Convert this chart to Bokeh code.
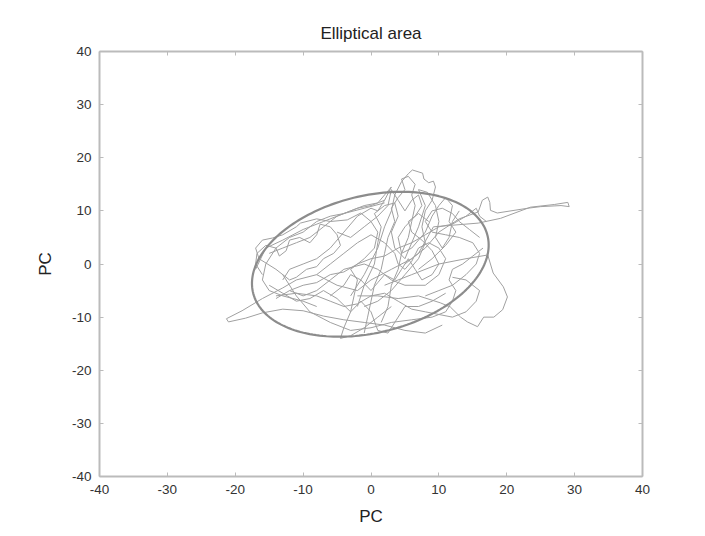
import numpy as np
from bokeh.plotting import figure
from bokeh.models import Range1d, LinearAxis, FixedTicker
from bokeh.embed import file_html
from bokeh.resources import INLINE

# ---- data (data units) ----
ticks = [-40, -30, -20, -10, 0, 10, 20, 30, 40]
tick_labels = {t: str(t) for t in ticks}

# fitted ellipse parameters
ell_cx, ell_cy = -0.1, -0.05
ell_a, ell_b = 18.2, 12.6
ell_angle_deg = 23.4

path_a_x = [-2, -5, -8, -11, -13, -16, -19, -21.3, -21, -18.5, -16, -13, -10, -7, -4, -1, 2, 5, 8, 10.5]
path_a_y = [-5, -4, -2, -3, -4.5, -6.5, -8.8, -10.3, -10.9, -10.2, -9.2, -8.5, -8.8, -9.8, -10.5, -11, -11.5, -12.5, -13, -11.5]

path_b_x = [-12, -14, -16.5, -17, -16, -14.5, -13, -11, -10.4, -8, -6, -3.5, -1.5, 0, 1, 0.5, -1, -3, -2, -2.5, -3, -4, -4.5, -3, -1, 1, 3]
path_b_y = [-3, -1, 1, 3, 4.5, 4.9, 5.5, 7, 7.7, 8.5, 8, 8.3, 9.6, 8, 6, 3, 1, -1, -3, -6, -9, -12, -14, -13.5, -12, -10, -8]

path_c_x = [-3, -1, 1, 2, 3, 3.5, 4.5, 5.5, 6.1, 7.6, 7.8, 8.5, 9.2, 9.5, 9, 8, 7.5, 8, 7, 5, 3, 1, -1]
path_c_y = [-6, -2, 3, 7, 10, 13, 15.5, 17, 17.7, 17.1, 16, 15.3, 15.6, 14.5, 12, 10, 7, 4, 1, -2, -5, -7, -8]

path_d_x = [5, 7, 9.2, 12, 15.8, 19.1, 23.5, 27, 29, 29.2, 28, 25, 23.1, 18.6, 17.6, 17.5, 17.2, 16.4, 15.8, 13, 10, 8, 6, 3, 0, -2]
path_d_y = [0, 2, 7, 7.3, 7.7, 8.6, 10.7, 11.2, 11.6, 10.8, 11, 10.8, 10.5, 9.6, 10.1, 11.6, 12.6, 12, 9.8, 8.5, 6, 3, 1, -1, -3, -5]

path_e_x = [2, 6, 10, 14, 17.2, 18, 19.5, 20.1, 19.4, 18.1, 16.6, 15.7, 14.2, 13.2, 11.7, 10.2, 7, 4, 1, -2]
path_e_y = [-4, -2, 0, 1, 1.7, -1.7, -4.3, -6.2, -8.6, -10, -10, -11.8, -10.9, -10, -8.1, -7.3, -6, -6.5, -6, -6]

path_f_x = [-8, -6, -4, -2, 0, 2, 3.5, 4, 5, 6, 7, 8.5, 10, 11, 10, 8, 5, 3, 1, -1, -4, -6, -8, -10, -12]
path_f_y = [-2, 0, 2, 4, 5.5, 4, 2, 0, -1, 0.5, 3, 4, 3, 1, -2, -4, -4, -3, -1, 0, -1, -3, -5, -6, -5]

path_g_x = [-5, -3, -1, 1, 2.5, 3, 4, 5, 6, 7, 7.5, 6.5, 5, 4, 4.5, 6, 8, 9, 10, 11, 12, 11.5, 12.5, 11, 9, 7]
path_g_y = [6, 5, 7, 9, 11, 14, 12, 10, 12, 13, 11, 9, 7, 5, 2, 3, 6, 9, 11, 12.5, 11, 8, 6, 3.5, 1, -1]

path_h_x = [-14, -11, -8, -6, -4, -2, 0, 2, 4, 6, 8, 10, 12, 14, 15.5, 16, 14, 12]
path_h_y = [-6, -5.5, -6, -7, -8, -7.5, -6, -5.5, -7, -8.5, -9, -9.5, -10, -9, -7, -5, -3, -2.5]

path_i_x = [-15, -13, -11, -9, -7, -5, -3, -1, 1, 2, 3, 2, 1, 0, -2, -4, -6, -8, -10, -12, -13]
path_i_y = [2, 3, 4, 5, 7, 9, 10, 11, 11.5, 13, 14.5, 12, 10, 10.5, 9, 6, 3, 1, 0, -1, -3]

path_j_x = [-16, -17, -16.8, -15.5, -14, -13.5, -12.5, -12, -10.5, -9, -8, -7.5, -6, -5, -4.5, -5.5, -7, -8, -9.5, -11, -12]
path_j_y = [-2, 0, 2, 3.5, 3, 1.5, 2.5, 4.5, 5, 4, 5.5, 7.5, 7, 5.5, 3.5, 2, 1, -0.5, -1, -2.5, -3]

path_k_x = [-1, -0.5, 0, 0.5, 1.5, 2, 2.5, 3.5, 3, 4, 5, 4.5, 5.5, 6.5, 6, 6.5, 6, 5.5, 4.5, 4, 3, 2.5, 1.5]
path_k_y = [-13, -10, -7, -4, -1, 2, 5, 8, 10.5, 12.5, 14, 16, 16.5, 15, 13, 11, 8, 5, 2, -1, -4, -8, -11]

path_l_x = [-14, -12, -10, -8, -6, -4, -2, 0, 2, 4, 6, 8, 10, 12, 14, 15.5, 16, 17]
path_l_y = [-6.5, -5, -4, -3.5, -2, -1.5, 0, 1, 1.5, 3, 4, 5.5, 7, 7.5, 9, 10.5, 9, 8]

path_m_x = [-13, -11, -9, -6, -3, 0, 3, 6, 9, 11, 12, 12.5, 11.5, 12, 13.5, 15, 16.5]
path_m_y = [-2, -6, -9, -11, -12.5, -12, -11, -10.5, -10, -9, -7, -5, -3, -1, 0, 1.5, 3]

path_n_x = [8, 10, 12, 14, 15.5, 16, 15, 13, 11, 9, 8, 9, 10.5, 12, 13, 14.5, 16]
path_n_y = [-6, -5, -4, -2, 0, 2, 4, 5, 5.5, 6, 8, 10, 10.5, 9.5, 8, 6.5, 5]

path_p_x = [-6, -4, -3, -1.5, 0, 1, 2, 3.5, 4.5, 5.5, 6.5, 7.5, 9, 10, 9, 7.5, 6, 5.5, 7, 8.5]
path_p_y = [-6, -4, -2, -3, -5, -3.5, -2, -3, -1, 1, -1, -3, -2, 0, 2.5, 4.5, 6, 8, 9.5, 8]

path_q_x = [2, 0, -2, -4, -6, -8, -10, -12, -14, -15.5, -16, -15, -13, -10, -8]
path_q_y = [12, 11, 10.5, 9.5, 9, 8, 6, 5, 3, 0, -3, -5, -6, -7, -8]

path_r_x = [-2, -1, 0.5, 1, 1.5, 0.5, 2, 3.5, 4, 3, 3.5, 5, 6, 7, 8, 7, 8.3, 9.5, 10, 9.5, 10.5, 11.5, 12, 13]
path_r_y = [-8, -4, 0, 4, 7, 9.5, 11, 11.5, 9, 6, 3, 1, 4, 7, 11, 14, 13.5, 11, 8, 5, 3, 5, 8, 10]

path_s_x = [-15, -13, -11, -9, -7, -5, -3, -1.5, 0, 1, 2.5, 4, 5, 7, 9, 11]
path_s_y = [-4, -5.5, -7, -6.5, -5, -6.5, -9, -7, -9, -12.5, -13, -10, -8, -8, -7, -5.5]

path_t_x = [-17, -15.5, -13, -10, -7, -4, -1, 2]
path_t_y = [-1, 3, 4.5, 6.5, 8, 9.5, 10.5, 11.5]

paths_x = [path_a_x, path_b_x, path_c_x, path_d_x, path_e_x, path_f_x, path_g_x, path_h_x, path_i_x,
           path_j_x, path_k_x, path_l_x, path_m_x, path_n_x, path_p_x, path_q_x, path_r_x, path_s_x, path_t_x]
paths_y = [path_a_y, path_b_y, path_c_y, path_d_y, path_e_y, path_f_y, path_g_y, path_h_y, path_i_y,
           path_j_y, path_k_y, path_l_y, path_m_y, path_n_y, path_p_y, path_q_y, path_r_y, path_s_y, path_t_y]

# ---- figure ----
p = figure(width=697, height=528, x_range=Range1d(-40, 40), y_range=Range1d(-40, 40),
           output_backend="svg", toolbar_location=None,
           min_border_left=99, min_border_right=55, min_border_top=51, min_border_bottom=51)
p.background_fill_color = "white"
p.border_fill_color = "white"
p.outline_line_color = None
p.grid.visible = False

p.title.text = "Elliptical area"
p.title.align = "center"
p.title.text_font = "Liberation Sans"
p.title.text_font_size = "17px"
p.title.text_font_style = "normal"
p.title.text_color = "#222222"
p.title.standoff = 17

p.multi_line(paths_x, paths_y, line_color="#a0a0a0", line_width=1)

t = np.linspace(0, 2 * np.pi, 200)
th = np.deg2rad(ell_angle_deg)
ex = ell_cx + ell_a * np.cos(t) * np.cos(th) - ell_b * np.sin(t) * np.sin(th)
ey = ell_cy + ell_a * np.cos(t) * np.sin(th) + ell_b * np.sin(t) * np.cos(th)
p.line(ex, ey, line_color="#8c8c8c", line_width=2.2)

def style_axis(ax, labels=True):
    ax.ticker = FixedTicker(ticks=ticks)
    ax.axis_line_color = "#bbbbbb"
    ax.axis_line_width = 2
    ax.major_tick_line_color = "#bbbbbb"
    ax.major_tick_in = 4
    ax.major_tick_out = 0
    ax.minor_tick_line_color = None
    ax.major_label_text_font = "Liberation Sans"
    ax.major_label_text_font_size = "13.5px"
    ax.major_label_text_color = "#333333"
    ax.axis_label_text_font = "Liberation Sans"
    ax.axis_label_text_font_size = "17px"
    ax.axis_label_text_font_style = "normal"
    ax.axis_label_text_color = "#222222"
    if labels:
        ax.major_label_overrides = tick_labels
    else:
        ax.major_label_overrides = {t: "" for t in ticks}

xa = p.xaxis[0]
ya = p.yaxis[0]
style_axis(xa)
style_axis(ya)
xa.axis_label = "PC"
ya.axis_label = "PC"
xa.major_label_standoff = 8
ya.major_label_standoff = 8
xa.axis_label_standoff = 10
ya.axis_label_standoff = 14

top = LinearAxis()
right = LinearAxis()
style_axis(top, labels=False)
style_axis(right, labels=False)
p.add_layout(top, "above")
p.add_layout(right, "right")

open("out.html", "w").write(file_html(p, INLINE))
